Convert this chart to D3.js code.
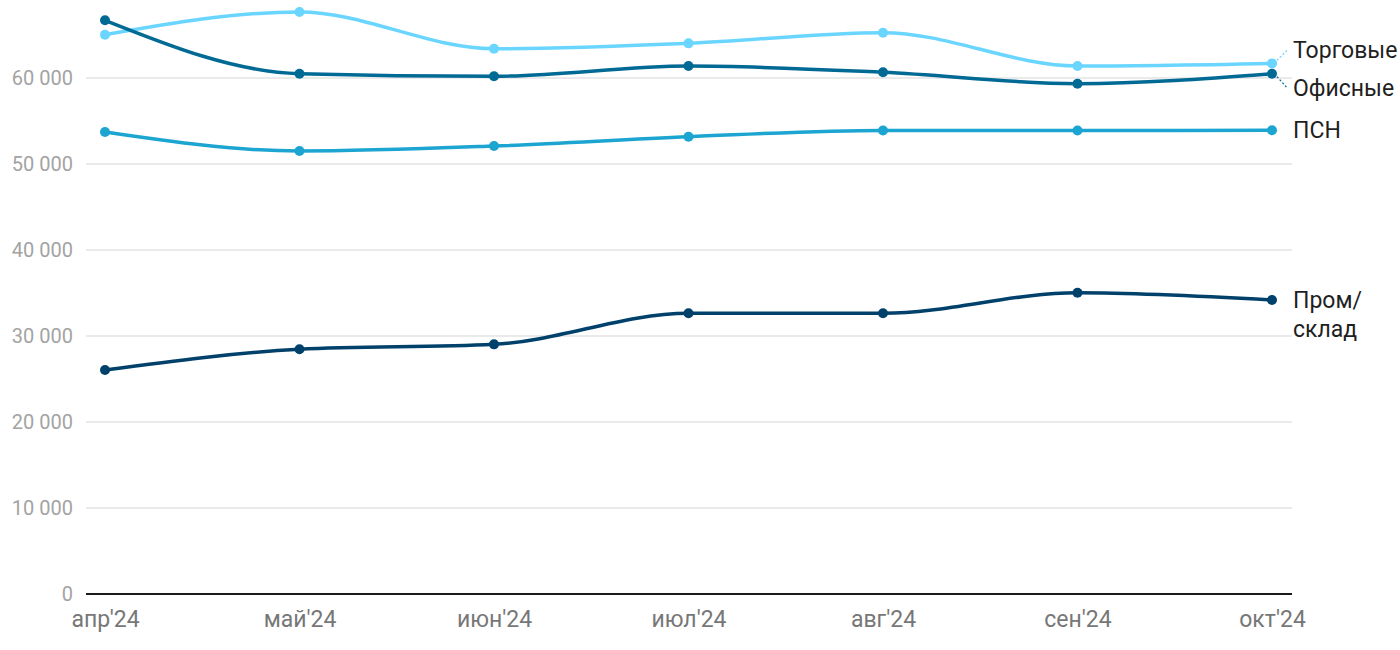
<!DOCTYPE html>
<html><head><meta charset="utf-8">
<script src="https://cdn.jsdelivr.net/npm/d3@7"></script>
<style>
html,body{margin:0;padding:0;background:#fff;}
svg{display:block;font-family:Roboto,"Noto Sans",sans-serif;}
</style></head>
<body><svg id="c" width="1400" height="650"></svg>
<script>
const months = ["апр'24","май'24","июн'24","июл'24","авг'24","сен'24","окт'24"];
const yTicks = [0,10000,20000,30000,40000,50000,60000];
const seriesNames = ["Пром/склад","ПСН","Торговые","Офисные"];
const labelLines = [["Пром/","склад"],["ПСН"],["Торговые"],["Офисные"]];
const seriesColors = ["#00416b","#1ca5d1","#6ad6ff","#006a94"];
const prom   = [26050,28450,29030,32640,32640,35030,34190];
const psn    = [53720,51510,52090,53170,53900,53900,53920];
const torg   = [65030,67680,63400,64030,65270,61400,61700];
const ofis   = [66710,60500,60200,61390,60660,59340,60500];
const seriesValues = [prom,psn,torg,ofis];
const labelOffsets = [[0,0],[0,0],[-13,0],[14,0]];

const svg = d3.select("#c");
const x = d3.scalePoint().domain(months).range([105,1272]);
const y = d3.scaleLinear().domain([0,60000]).range([594,78]);
const fmt = v => d3.format(",")(v).replace(/,/g," ");

// grid
svg.append("g").selectAll("line").data(yTicks.filter(d=>d>0)).join("line")
  .attr("x1",86).attr("x2",1292).attr("y1",d=>y(d)).attr("y2",d=>y(d))
  .attr("stroke","#e3e3e3").attr("stroke-width",1.5);

// y axis labels
const ya = svg.append("g").attr("transform","translate(73,0)")
  .call(d3.axisLeft(y).tickValues(yTicks).tickSize(0).tickPadding(0).tickFormat(fmt));
ya.select(".domain").remove();
ya.selectAll("text").attr("fill","#a3a3a3").attr("font-size",20).attr("font-family","Roboto");

// x axis
const xa = svg.append("g").attr("transform","translate(0,594)")
  .call(d3.axisBottom(x).tickSize(0).tickPadding(17));
xa.select(".domain").remove();
xa.selectAll("text").attr("fill","#777").attr("font-size",23).attr("font-family","Roboto").attr("dy","0.71em");
svg.append("line").attr("x1",86).attr("x2",1292).attr("y1",594).attr("y2",594)
  .attr("stroke","#1a1a1a").attr("stroke-width",2);

const line = d3.line().x((d,i)=>x(months[i])).y(d=>y(d)).curve(d3.curveMonotoneX);
seriesValues.forEach((vals,k)=>{
  const g = svg.append("g");
  g.append("path").attr("d",line(vals)).attr("fill","none")
    .attr("stroke",seriesColors[k]).attr("stroke-width",3.5);
  g.selectAll("circle").data(vals).join("circle")
    .attr("cx",(d,i)=>x(months[i])).attr("cy",d=>y(d)).attr("r",5)
    .attr("fill",seriesColors[k]);
});

// labels
seriesValues.forEach((vals,k)=>{
  const last = vals[vals.length-1];
  const px = x(months[months.length-1]), py = y(last);
  const ly = py + labelOffsets[k][0] + labelOffsets[k][1];
  const lines = labelLines[k];
  const startY = ly - (lines.length-1)*29/2 + (lines.length>1 ? 14.5 : 0);
  if (labelOffsets[k][0] !== 0) {
    svg.append("line").attr("x1",px+5).attr("y1",py + Math.sign(labelOffsets[k][0])*3)
      .attr("x2",px+15).attr("y2",ly).attr("stroke",seriesColors[k])
      .attr("stroke-width",1.3).attr("stroke-dasharray","2,2");
  }
  const t = svg.append("text").attr("x",1293).attr("fill","#1f1f1f")
    .attr("font-size",23).attr("font-family","Roboto");
  lines.forEach((s,j)=>{
    t.append("tspan").attr("x",1293).attr("y",startY + j*29).attr("dy","0.35em").text(s);
  });
});
</script></body></html>
